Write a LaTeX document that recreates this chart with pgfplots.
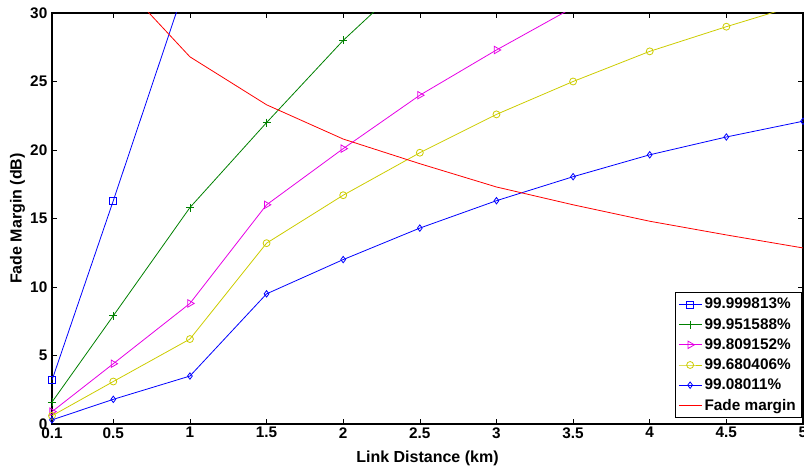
\documentclass[border=0pt]{standalone}
\usepackage{fontspec}
\setmainfont{Liberation Sans}
\usepackage{pgfplots}
\pgfplotsset{compat=1.18}
\definecolor{myyel}{RGB}{204,204,0}
\definecolor{mygreen}{RGB}{0,128,0}
\definecolor{mymag}{RGB}{230,0,230}
\definecolor{myblue}{RGB}{0,0,255}
\definecolor{myred}{RGB}{255,0,0}
\begin{document}
\begin{tikzpicture}[x=0.75pt,y=0.75pt]
\begin{axis}[
  at={(0,0)}, anchor=south west,
  scale only axis, width=563.25pt, height=308.25pt,
  xmin=0.1, xmax=5, ymin=0, ymax=30,
  xtick={0.1,0.5,1,1.5,2,2.5,3,3.5,4,4.5,5},
  xticklabels={0.1,0.5,1,1.5,2,2.5,3,3.5,4,4.5,5},
  ytick={0,5,10,15,20,25,30},
  tick align=inside, major tick length=4pt,
  tick style={black, line width=0.5pt},
  axis line style={line width=0.8pt},
  /pgf/number format/assume math mode=true,
  font=\fontsize{11.5}{13}\selectfont\bfseries,
  ticklabel style={font=\fontsize{11.5}{13}\selectfont\bfseries},
  xticklabel style={yshift=1pt},
  xlabel={Link Distance (km)}, ylabel={Fade Margin (dB)},
  label style={font=\fontsize{12}{14}\selectfont\bfseries},
  xlabel style={yshift=-3pt},
  ylabel style={yshift=-3pt},
  legend style={at={(0.998,0.015)}, anchor=south east, draw=black, line width=0.6pt,
    font=\fontsize{11.5}{13}\selectfont\bfseries, row sep=1.6pt, inner sep=2pt,
    cells={anchor=west}},
  legend cell align=left,
  clip=true,
]
\addplot[myblue, line width=0.6pt, mark=square, mark size=2.6pt, mark options={solid}] coordinates {
 (0.1,3.2) (0.5,16.3) (1,33.0) (1.5,45) (2,55) (2.5,63) (3,70) (3.5,76) (4,82) (4.5,87) (5,91)};
\addlegendentry{99.999813\%}
\addplot[mygreen, line width=0.6pt, mark=+, mark size=3pt] coordinates {
 (0.1,1.6) (0.5,7.9) (1,15.8) (1.5,22.0) (2,28.0) (2.5,33.2) (3,38) (3.5,42) (4,45.5) (4.5,48.5) (5,51)};
\addlegendentry{99.951588\%}
\addplot[mymag, line width=0.6pt, mark=triangle, mark size=3.2pt, mark options={rotate=-90}] coordinates {
 (0.1,0.9) (0.5,4.4) (1,8.8) (1.5,16.0) (2,20.1) (2.5,24.0) (3,27.3) (3.5,30.4) (4,33.2) (4.5,35.6) (5,37.7)};
\addlegendentry{99.809152\%}
\addplot[myyel, line width=0.6pt, mark=o, mark size=2.6pt] coordinates {
 (0.1,0.6) (0.5,3.1) (1,6.2) (1.5,13.2) (2,16.7) (2.5,19.8) (3,22.6) (3.5,25.0) (4,27.2) (4.5,29.0) (5,30.7)};
\addlegendentry{99.680406\%}
\addplot[myblue, line width=0.6pt, mark=diamond, mark size=2.4pt] coordinates {
 (0.1,0.3) (0.5,1.8) (1,3.5) (1.5,9.5) (2,12.0) (2.5,14.3) (3,16.3) (3.5,18.05) (4,19.65) (4.5,20.95) (5,22.1)};
\addlegendentry{99.08011\%}
\addplot[myred, line width=0.6pt] coordinates {
 (0.1,46) (0.5,32.8) (1,26.8) (1.5,23.3) (2,20.8) (2.5,19.0) (3,17.3) (3.5,16.0) (4,14.8) (4.5,13.8) (5,12.85)};
\addlegendentry{Fade margin}
\end{axis}
\pgfresetboundingbox
\path (-52,-46) rectangle (752,424);
\end{tikzpicture}
\end{document}
